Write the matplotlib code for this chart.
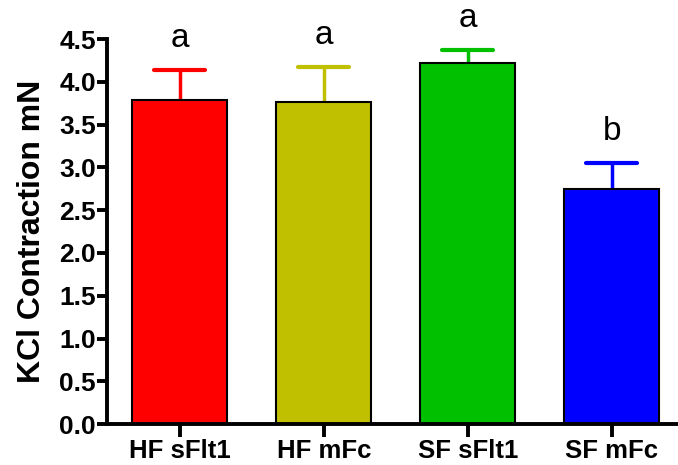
import matplotlib
matplotlib.use("Agg")
import matplotlib.pyplot as plt

plt.rcParams['font.family'] = ['Liberation Sans', 'DejaVu Sans']

grupos = ["HF sFlt1", "HF mFc", "SF sFlt1", "SF mFc"]
medias = [3.79, 3.77, 4.22, 2.75]
erros = [0.35, 0.40, 0.15, 0.30]
letras = ["a", "a", "a", "b"]
cores = ["#FF0000", "#C0C000", "#00C000", "#0000FF"]

fig = plt.figure(figsize=(6.78, 4.65), dpi=100)
ax = fig.add_axes([0.158, 0.088, 0.842, 0.828])

x = list(range(len(grupos)))
ax.bar(x, medias, width=0.66, color=cores, edgecolor="black", linewidth=1.5, zorder=2)

# barras de erro so para cima
for i in x:
    topo = medias[i] + erros[i]
    ax.vlines(i, medias[i], topo, color=cores[i], linewidth=2.5, zorder=1)
    ax.hlines(topo, i - 0.177, i + 0.177, color=cores[i], linewidth=3, capstyle="round", zorder=1)
    ax.text(i, topo + 0.27, letras[i], ha="center", va="baseline", fontsize=24)

ax.set_xlim(-0.505, 3.46)
ax.set_ylim(0, 4.5)
ax.set_yticks([0, 0.5, 1.0, 1.5, 2.0, 2.5, 3.0, 3.5, 4.0, 4.5])
ax.set_yticklabels(["0.0", "0.5", "1.0", "1.5", "2.0", "2.5", "3.0", "3.5", "4.0", "4.5"],
                   fontsize=19, fontweight="bold")
ax.set_xticks(x)
ax.set_xticklabels(grupos, fontsize=18.5, fontweight="bold")
ax.set_ylabel("KCl Contraction mN", fontsize=23, fontweight="bold", labelpad=9)

for lado in ["top", "right"]:
    ax.spines[lado].set_visible(False)
for lado in ["left", "bottom"]:
    ax.spines[lado].set_linewidth(2.8)
ax.tick_params(axis="y", width=2.8, length=7, pad=1)
ax.tick_params(axis="x", width=2.8, length=9, pad=2)

fig.savefig("out.png", dpi=100)
